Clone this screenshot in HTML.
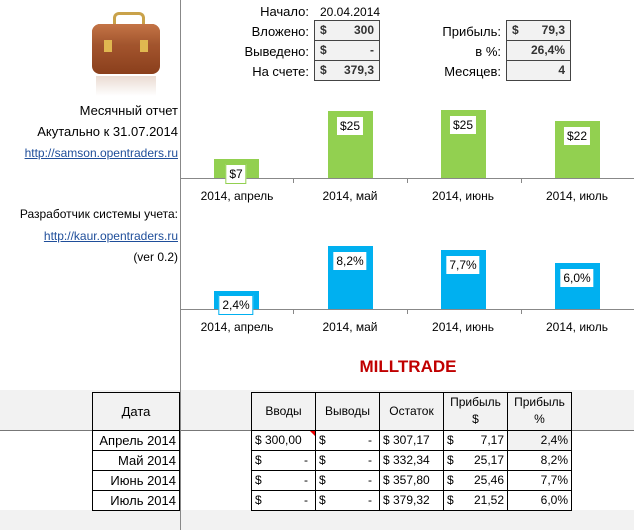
<!DOCTYPE html>
<html><head><meta charset="utf-8"><style>
body{margin:0;width:634px;height:530px;position:relative;background:#fff;font-family:"Liberation Sans","Noto Sans CJK SC",sans-serif;font-size:12px;color:#000;overflow:hidden}
.a{position:absolute;white-space:nowrap}
.r{text-align:right}
.c{text-align:center}
.box{position:absolute;border:1px solid #444;background:#f2f2f2;box-sizing:border-box;height:21px;font-weight:bold;color:#333;line-height:19px}
.lnk{color:#1f4e9a;text-decoration:underline}
.bar{position:absolute;width:45px}
.lbl{position:absolute;background:#fff;font-size:12px;padding:1px 3px;line-height:16px;transform:translateX(-50%)}
.ax{position:absolute;font-size:12px;transform:translateX(-50%);white-space:nowrap}
.cell{position:absolute;box-sizing:border-box;border:1px solid #000;height:21px;line-height:19px;padding:0 3px;font-size:12px}
</style></head><body>
<div class="a" style="left:0;top:390px;width:634px;height:40px;background:#f2f2f2"></div>
<div class="a" style="left:0;top:510px;width:634px;height:20px;background:#f2f2f2"></div>
<div class="a" style="left:0;top:430px;width:634px;height:1px;background:#777"></div>
<div class="a" style="left:180px;top:0;width:1px;height:530px;background:#888"></div>
<div class="a" style="left:180px;top:178px;width:6px;height:1px;background:#888"></div>

<!-- briefcase -->
<div class="a" style="left:113px;top:12px;width:26px;height:14px;border:3px solid #c9a24a;border-bottom:none;border-radius:6px 6px 0 0"></div>
<div class="a" style="left:92px;top:24px;width:68px;height:50px;background:linear-gradient(#b5643a,#8a3f1c);border-radius:8px"></div>
<div class="a" style="left:92px;top:24px;width:68px;height:22px;background:linear-gradient(#c47446,#a0532c);border-radius:8px 8px 4px 4px"></div>
<div class="a" style="left:104px;top:40px;width:8px;height:12px;background:#e0b850"></div>
<div class="a" style="left:140px;top:40px;width:8px;height:12px;background:#e0b850"></div>
<div class="a" style="left:96px;top:76px;width:60px;height:20px;background:linear-gradient(#eadbd2,#fff)"></div>

<div class="a r" style="right:456px;top:103px;font-size:13px">Месячный отчет</div>
<div class="a r" style="right:456px;top:124px;font-size:13px">Акутально к 31.07.2014</div>
<div class="a r lnk" style="right:456px;top:146px">http://samson.opentraders.ru</div>
<div class="a r" style="right:456px;top:207px">Разработчик системы учета:</div>
<div class="a r lnk" style="right:456px;top:229px">http://kaur.opentraders.ru</div>
<div class="a r" style="right:456px;top:250px">(ver 0.2)</div>

<!-- summary -->
<div class="a r" style="right:325px;top:4px;font-size:13px">Начало:</div>
<div class="a" style="left:320px;top:5px">20.04.2014</div>
<div class="a r" style="right:325px;top:24px;font-size:13px">Вложено:</div>
<div class="a r" style="right:325px;top:44px;font-size:13px">Выведено:</div>
<div class="a r" style="right:325px;top:64px;font-size:13px">На счете:</div>
<div class="box" style="left:314px;top:20px;width:66px"><span style="position:absolute;left:5px">$</span><span style="position:absolute;right:5px">300</span></div>
<div class="box" style="left:314px;top:40px;width:66px"><span style="position:absolute;left:5px">$</span><span style="position:absolute;right:5px">-</span></div>
<div class="box" style="left:314px;top:60px;width:66px"><span style="position:absolute;left:5px">$</span><span style="position:absolute;right:5px">379,3</span></div>
<div class="a r" style="right:133px;top:24px;font-size:13px">Прибыль:</div>
<div class="a r" style="right:133px;top:44px;font-size:13px">в %:</div>
<div class="a r" style="right:133px;top:64px;font-size:13px">Месяцев:</div>
<div class="box" style="left:506px;top:20px;width:65px"><span style="position:absolute;left:5px">$</span><span style="position:absolute;right:5px">79,3</span></div>
<div class="box" style="left:506px;top:40px;width:65px"><span style="position:absolute;right:5px">26,4%</span></div>
<div class="box" style="left:506px;top:60px;width:65px"><span style="position:absolute;right:5px">4</span></div>

<!-- chart 1 -->
<div class="bar" style="left:214px;top:159px;height:19px;background:#92d050"></div>
<div class="bar" style="left:328px;top:111px;height:67px;background:#92d050"></div>
<div class="bar" style="left:441px;top:110px;height:68px;background:#92d050"></div>
<div class="bar" style="left:555px;top:121px;height:57px;background:#92d050"></div>
<div class="a" style="left:180px;top:178px;width:454px;height:1px;background:#888"></div>
<div class="a" style="left:293px;top:178px;width:1px;height:5px;background:#888"></div>
<div class="a" style="left:407px;top:178px;width:1px;height:5px;background:#888"></div>
<div class="a" style="left:521px;top:178px;width:1px;height:5px;background:#888"></div>
<div class="lbl" style="left:236px;top:164px;border:1px solid #92d050">$7</div>
<div class="lbl" style="left:350px;top:117px">$25</div>
<div class="lbl" style="left:463px;top:116px">$25</div>
<div class="lbl" style="left:577px;top:127px">$22</div>
<div class="ax" style="left:237px;top:189px">2014, апрель</div>
<div class="ax" style="left:350px;top:189px">2014, май</div>
<div class="ax" style="left:463px;top:189px">2014, июнь</div>
<div class="ax" style="left:577px;top:189px">2014, июль</div>

<!-- chart 2 -->
<div class="bar" style="left:214px;top:291px;height:18px;background:#00b0f0"></div>
<div class="bar" style="left:328px;top:246px;height:63px;background:#00b0f0"></div>
<div class="bar" style="left:441px;top:250px;height:59px;background:#00b0f0"></div>
<div class="bar" style="left:555px;top:263px;height:46px;background:#00b0f0"></div>
<div class="a" style="left:180px;top:309px;width:454px;height:1px;background:#888"></div>
<div class="a" style="left:293px;top:309px;width:1px;height:5px;background:#888"></div>
<div class="a" style="left:407px;top:309px;width:1px;height:5px;background:#888"></div>
<div class="a" style="left:521px;top:309px;width:1px;height:5px;background:#888"></div>
<div class="lbl" style="left:236px;top:295px;border:1px solid #00b0f0">2,4%</div>
<div class="lbl" style="left:350px;top:252px">8,2%</div>
<div class="lbl" style="left:463px;top:256px">7,7%</div>
<div class="lbl" style="left:577px;top:269px">6,0%</div>
<div class="ax" style="left:237px;top:320px">2014, апрель</div>
<div class="ax" style="left:350px;top:320px">2014, май</div>
<div class="ax" style="left:463px;top:320px">2014, июнь</div>
<div class="ax" style="left:577px;top:320px">2014, июль</div>

<div class="a c" style="left:300px;width:216px;top:357px;color:#c00000;font-weight:bold;font-size:17px">MILLTRADE</div>

<!-- table -->
<div class="cell c" style="left:92px;top:392px;width:88px;height:39px;line-height:37px;font-size:13px">Дата</div>
<div class="cell c" style="left:251px;top:392px;width:65px;height:39px;line-height:37px">Вводы</div>
<div class="cell c" style="left:315px;top:392px;width:65px;height:39px;line-height:37px">Выводы</div>
<div class="cell c" style="left:379px;top:392px;width:65px;height:39px;line-height:37px">Остаток</div>
<div class="cell c" style="left:443px;top:392px;width:65px;height:39px;line-height:17px;padding-top:1px">Прибыль<br>$</div>
<div class="cell c" style="left:507px;top:392px;width:65px;height:39px;line-height:17px;padding-top:1px">Прибыль<br>%</div>

<div class="cell r" style="left:92px;top:430px;width:88px;font-size:13px">Апрель 2014</div>
<div class="cell r" style="left:92px;top:450px;width:88px;font-size:13px">Май 2014</div>
<div class="cell r" style="left:92px;top:470px;width:88px;font-size:13px">Июнь 2014</div>
<div class="cell r" style="left:92px;top:490px;width:88px;font-size:13px">Июль 2014</div>

<div class="cell" style="left:251px;top:430px;width:65px">$ 300,00</div>
<div class="a" style="left:310px;top:431px;width:0;height:0;border-left:5px solid transparent;border-top:5px solid #e00"></div>
<div class="cell" style="left:251px;top:450px;width:65px">$<span style="float:right;margin-right:4px">-</span></div>
<div class="cell" style="left:251px;top:470px;width:65px">$<span style="float:right;margin-right:4px">-</span></div>
<div class="cell" style="left:251px;top:490px;width:65px">$<span style="float:right;margin-right:4px">-</span></div>
<div class="cell" style="left:315px;top:430px;width:65px">$<span style="float:right;margin-right:4px">-</span></div>
<div class="cell" style="left:315px;top:450px;width:65px">$<span style="float:right;margin-right:4px">-</span></div>
<div class="cell" style="left:315px;top:470px;width:65px">$<span style="float:right;margin-right:4px">-</span></div>
<div class="cell" style="left:315px;top:490px;width:65px">$<span style="float:right;margin-right:4px">-</span></div>
<div class="cell" style="left:379px;top:430px;width:65px">$ 307,17</div>
<div class="cell" style="left:379px;top:450px;width:65px">$ 332,34</div>
<div class="cell" style="left:379px;top:470px;width:65px">$ 357,80</div>
<div class="cell" style="left:379px;top:490px;width:65px">$ 379,32</div>
<div class="cell" style="left:443px;top:430px;width:65px">$<span style="float:right">7,17</span></div>
<div class="cell" style="left:443px;top:450px;width:65px">$<span style="float:right">25,17</span></div>
<div class="cell" style="left:443px;top:470px;width:65px">$<span style="float:right">25,46</span></div>
<div class="cell" style="left:443px;top:490px;width:65px">$<span style="float:right">21,52</span></div>
<div class="cell r" style="left:507px;top:430px;width:65px;background:#f2f2f2">2,4%</div>
<div class="cell r" style="left:507px;top:450px;width:65px">8,2%</div>
<div class="cell r" style="left:507px;top:470px;width:65px">7,7%</div>
<div class="cell r" style="left:507px;top:490px;width:65px">6,0%</div>
</body></html>
